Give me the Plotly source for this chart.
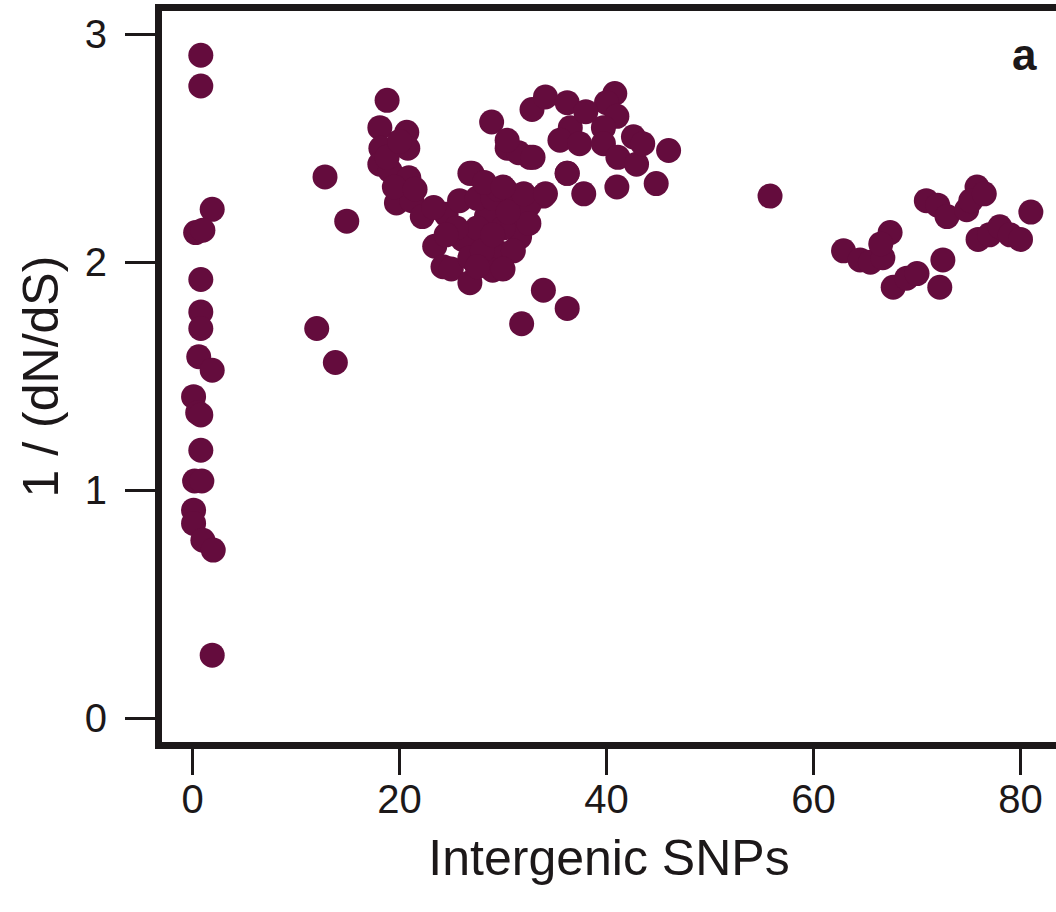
import plotly.graph_objects as go

# Intergenic SNPs (x) vs 1/(dN/dS) (y)
snps_low = [0.8, 0.8, 1.9, 0.3, 1.0, 0.8, 0.8, 0.8, 0.6, 1.9, 0.1, 0.5, 0.8, 0.8, 0.2, 0.9,
            0.1, 0.1, 1.0, 2.0, 1.9]
ratio_low = [2.908, 2.773, 2.232, 2.13, 2.14, 1.924, 1.782, 1.709, 1.585, 1.526, 1.41, 1.34,
             1.33, 1.175, 1.04, 1.04, 0.912, 0.854, 0.78, 0.737, 0.276]

snps_mid = [12.8, 14.9, 12.0, 13.8,
            18.8, 18.1, 20.7, 18.2, 20.8, 18.1, 19.1, 20.9, 18.8, 19.7, 21.2, 22.2, 24.5,
            23.4, 24.2, 25.0, 26.8, 27.0, 28.9,
            26.8, 30.2, 33.9, 36.2, 32.6, 30.4, 25.8, 23.3, 28.4, 31.3, 31.6, 28.4, 26.1,
            26.8, 29.7, 29.0, 33.9,
            27.5, 29.0, 31.0, 32.5, 27.5, 30.0, 32.5, 28.0, 31.0, 27.5, 30.0, 25.5, 29.5,
            28.2, 24.5, 30.5, 32.0, 29.0,
            31.5, 32.9, 32.8, 34.1, 36.2, 36.5, 35.5, 37.4, 40.8, 40.0, 41.0, 39.7, 39.7,
            42.6, 41.1, 41.0, 42.9, 46.0, 44.8, 37.8, 34.1, 30.0, 36.2, 31.8, 38.0, 43.5,
            36.2, 30.4, 19.5, 21.5, 20.0]
ratio_mid = [2.374, 2.18, 1.709, 1.56,
             2.71, 2.59, 2.57, 2.50, 2.50, 2.43, 2.40, 2.37, 2.46, 2.26, 2.27, 2.20, 2.21,
             2.07, 1.98, 1.97, 1.91, 2.39, 2.615,
             2.39, 2.32, 2.29, 2.39, 2.46, 2.50, 2.27, 2.24, 2.20, 2.18, 2.11, 2.10, 2.10,
             2.02, 2.04, 1.965, 1.877,
             2.28, 2.28, 2.25, 2.25, 2.15, 2.15, 2.17, 2.05, 2.05, 1.98, 1.97, 2.15, 2.32,
             2.35, 2.12, 2.22, 2.30, 2.12,
             2.48, 2.46, 2.67, 2.725, 2.70, 2.59, 2.535, 2.52, 2.74, 2.70, 2.64, 2.59, 2.52,
             2.55, 2.46, 2.33, 2.43, 2.49, 2.345, 2.30, 2.30, 2.33, 2.39, 1.73, 2.66, 2.52,
             1.797, 2.535, 2.33, 2.32, 2.53]

snps_high = [55.8, 62.9, 64.5, 65.5, 66.7, 67.4, 66.5, 67.7, 69.0, 70.0, 72.5, 72.2, 70.9,
             72.0, 72.9, 74.8, 75.8, 75.2, 75.9, 77.0, 78.0, 79.0, 80.0, 81.0, 76.5]
ratio_high = [2.29, 2.05, 2.01, 2.00, 2.02, 2.13, 2.08, 1.89, 1.93, 1.95, 2.01, 1.89, 2.27,
              2.25, 2.20, 2.23, 2.33, 2.27, 2.10, 2.12, 2.155, 2.12, 2.10, 2.22, 2.30]

x_ticks = [0, 20, 40, 60, 80]
y_ticks = [0, 1, 2, 3]

x_all = snps_low + snps_mid + snps_high
y_all = ratio_low + ratio_mid + ratio_high

MARK = "#640c3d"
INK = "#1c1819"

fig = go.Figure(go.Scatter(
    x=x_all, y=y_all, mode="markers",
    marker=dict(size=25, color=MARK, line=dict(width=0)),
    showlegend=False, hoverinfo="skip"))

FONT = "Liberation Sans, Arial, sans-serif"

fig.update_layout(
    width=1056, height=912,
    margin=dict(l=162, r=0, t=11, b=170),
    paper_bgcolor="white", plot_bgcolor="white",
    font=dict(family=FONT, color=INK),
    xaxis=dict(range=[-2.95, 83.43], tickvals=x_ticks, ticks="outside", ticklen=26,
               tickwidth=3, tickcolor=INK, showline=True, linewidth=7, linecolor=INK,
               mirror=True, showgrid=False, zeroline=False, automargin=False,
               tickfont=dict(size=40, family=FONT, color=INK), ticklabelstandoff=-10,
               title=dict(text="Intergenic SNPs", font=dict(size=50, family=FONT, color=INK),
                          standoff=22)),
    yaxis=dict(range=[-0.105, 3.102], tickvals=y_ticks, ticks="outside", ticklen=30,
               tickwidth=3, tickcolor=INK, showline=True, linewidth=7, linecolor=INK,
               mirror=False, showgrid=False, zeroline=False, automargin=False,
               tickfont=dict(size=40, family=FONT, color=INK), ticklabelstandoff=10,
               title=dict(text="1 / (dN/dS)", font=dict(size=50, family=FONT, color=INK),
                          standoff=13)),
    annotations=[dict(text="<b>a</b>", x=0.965, y=0.94, xref="paper", yref="paper",
                      xanchor="center", yanchor="middle", showarrow=False,
                      font=dict(size=44, family=FONT, color=INK))],
)

fig.write_html("out.html", config={"displayModeBar": False},
               post_script="document.body.style.margin='0';document.body.style.overflow='hidden';")
